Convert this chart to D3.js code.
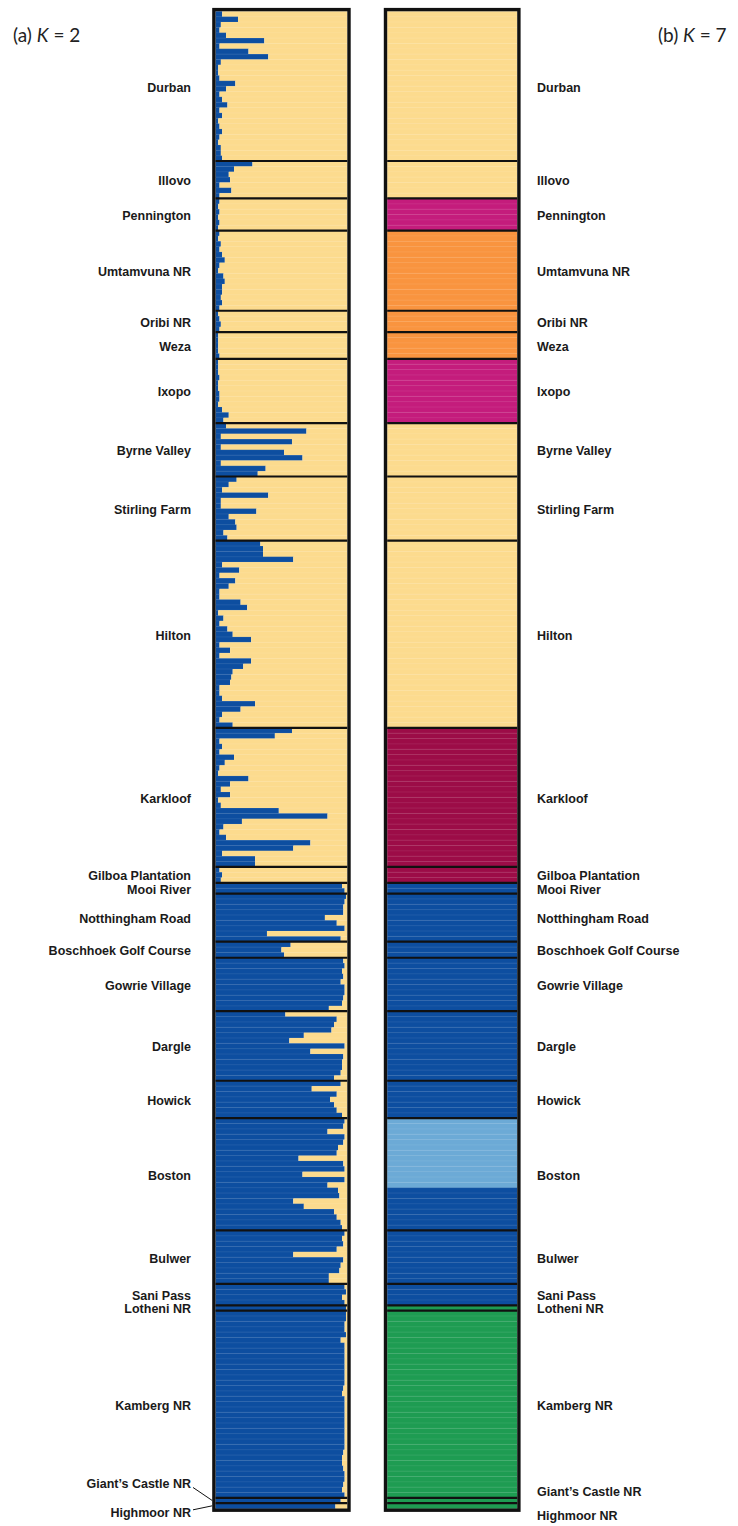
<!DOCTYPE html>
<html>
<head>
<meta charset="utf-8">
<script src="https://cdn.jsdelivr.net/npm/d3@7"></script>
<style>
  body { margin: 0; background: #fff; }
  svg { display: block; }
</style>
</head>
<body>
<svg id="chart" width="738" height="1526"></svg>
<script>
// Sampling sites, top to bottom
const populations = [
  "Durban", "Illovo", "Pennington", "Umtamvuna NR", "Oribi NR", "Weza", "Ixopo",
  "Byrne Valley", "Stirling Farm", "Hilton", "Karkloof", "Gilboa Plantation",
  "Mooi River", "Notthingham Road", "Boschhoek Golf Course", "Gowrie Village",
  "Dargle", "Howick", "Boston", "Bulwer", "Sani Pass", "Lotheni NR", "Kamberg NR",
  "Giant\u2019s Castle NR", "Highmoor NR"
];

// K = 2: membership in the blue cluster for each individual, grouped by site
const k2Blue = [
  [0.05, 0.17, 0.04, 0.03, 0.08, 0.37, 0.03, 0.25, 0.40, 0.04, 0.02, 0.02, 0.03, 0.15, 0.08, 0.03, 0.05, 0.09, 0.03, 0.05, 0.02, 0.03, 0.05, 0.03, 0.02, 0.04, 0.04, 0.05],
  [0.28, 0.14, 0.10, 0.11, 0.03, 0.12, 0.03],
  [0.03, 0.02, 0.03, 0.02, 0.03, 0.02],
  [0.03, 0.02, 0.04, 0.03, 0.05, 0.07, 0.03, 0.02, 0.06, 0.07, 0.05, 0.05, 0.04, 0.05, 0.03],
  [0.02, 0.03, 0.04, 0.03],
  [0.02, 0.02, 0.02, 0.02, 0.03],
  [0.02, 0.02, 0.02, 0.03, 0.02, 0.02, 0.03, 0.03, 0.02, 0.05, 0.10, 0.06],
  [0.08, 0.69, 0.04, 0.58, 0.04, 0.52, 0.66, 0.04, 0.38, 0.32],
  [0.16, 0.10, 0.05, 0.40, 0.04, 0.04, 0.31, 0.10, 0.15, 0.16, 0.06, 0.09],
  [0.34, 0.36, 0.36, 0.59, 0.05, 0.18, 0.03, 0.15, 0.10, 0.03, 0.03, 0.19, 0.24, 0.02, 0.06, 0.03, 0.09, 0.13, 0.27, 0.03, 0.11, 0.03, 0.27, 0.21, 0.13, 0.12, 0.11, 0.03, 0.03, 0.05, 0.30, 0.19, 0.05, 0.03, 0.13],
  [0.58, 0.45, 0.03, 0.05, 0.03, 0.14, 0.07, 0.03, 0.02, 0.25, 0.11, 0.04, 0.11, 0.02, 0.04, 0.48, 0.85, 0.20, 0.06, 0.03, 0.08, 0.72, 0.59, 0.05, 0.30, 0.30],
  [0.03, 0.05, 0.04],
  [0.96, 0.98],
  [0.99, 0.98, 0.97, 0.97, 0.83, 0.92, 0.98, 0.39, 0.95],
  [0.57, 0.50, 0.52],
  [0.97, 0.98, 0.96, 0.97, 0.95, 0.98, 0.98, 0.97, 0.96, 0.86],
  [0.53, 0.92, 0.90, 0.88, 0.67, 0.56, 0.98, 0.72, 0.97, 0.96, 0.96, 0.95, 0.90],
  [0.95, 0.73, 0.92, 0.87, 0.90, 0.92, 0.96],
  [0.98, 0.97, 0.85, 0.98, 0.97, 0.93, 0.92, 0.63, 0.97, 0.98, 0.66, 0.98, 0.85, 0.93, 0.94, 0.59, 0.67, 0.90, 0.92, 0.95, 0.96],
  [0.98, 0.96, 0.97, 0.92, 0.59, 0.97, 0.95, 0.94, 0.86, 0.86],
  [0.98, 0.99, 0.96, 0.98],
  [0.99],
  [0.99, 0.99, 0.98, 0.98, 0.99, 0.95, 0.98, 0.98, 0.98, 0.98, 0.98, 0.98, 0.98, 0.98, 0.97, 0.96, 0.98, 0.98, 0.98, 0.98, 0.98, 0.98, 0.98, 0.98, 0.98, 0.98, 0.97, 0.96, 0.96, 0.97, 0.98, 0.98, 0.97, 0.96, 0.98],
  [0.95],
  [0.91]
];

// K = 7: runs of [cluster, number of individuals] for each site
const k7Runs = [
  [[0, 28]], [[0, 7]], [[1, 6]], [[2, 15]], [[2, 4]], [[2, 5]], [[1, 12]],
  [[0, 10]], [[0, 12]], [[0, 35]], [[3, 26]], [[3, 3]],
  [[4, 2]], [[4, 9]], [[4, 3]], [[4, 10]], [[4, 13]], [[4, 7]],
  [[5, 13], [4, 8]], [[4, 10]], [[4, 4]],
  [[6, 1]], [[6, 35]], [[6, 1]], [[6, 1]]
];

const k2Colors = ["#0d4ea0", "#fcdb8e"];
const k7Colors = ["#fcdb8e", "#c41c7c", "#f9943f", "#9c0c47", "#0d4ea0", "#6caad6", "#1e9c52"];

// ---- flatten into individuals ----
const individuals = [];
const popRanges = [];
populations.forEach((name, p) => {
  const start = individuals.length;
  const k7 = [];
  k7Runs[p].forEach(([c, n]) => { for (let i = 0; i < n; i++) k7.push(c); });
  k2Blue[p].forEach((q, i) => {
    individuals.push({ pop: p, q, k7: k7[i] });
  });
  popRanges.push({ name, start, end: individuals.length });
});
const N = individuals.length;

const svg = d3.select("#chart");
svg.append("rect").attr("width", 738).attr("height", 1526).attr("fill", "#fff");

const y = d3.scaleBand().domain(d3.range(N)).range([11.3, 1508.5]).paddingInner(0);
const bw = y.bandwidth();
const popTop = r => y(r.start);
const popBottom = r => y(r.end - 1) + bw;
const popMid = r => (popTop(r) + popBottom(r)) / 2;

const xA = d3.scaleLinear().domain([0, 1]).range([215.6, 347.3]);
const xB = d3.scaleLinear().domain([0, 1]).range([387.2, 517.2]);

const border = 3.4;

function drawFrame(g, x) {
  // faint lines between individuals
  const popStarts = new Set(popRanges.map(r => r.start));
  g.append("g").selectAll("line")
    .data(d3.range(1, N).filter(i => !popStarts.has(i)))
    .join("line")
    .attr("x1", x(0)).attr("x2", x(1))
    .attr("y1", i => y(i)).attr("y2", i => y(i))
    .attr("stroke", "#fff").attr("stroke-opacity", 0.14).attr("stroke-width", 0.6);
  // site separators
  g.append("g").selectAll("line")
    .data(popRanges.slice(1))
    .join("line")
    .attr("x1", x(0)).attr("x2", x(1))
    .attr("y1", r => popTop(r)).attr("y2", r => popTop(r))
    .attr("stroke", "#111").attr("stroke-width", 2.2);
  // outer frame
  g.append("rect")
    .attr("x", x(0) - border / 2).attr("y", y.range()[0] - border / 2)
    .attr("width", x(1) - x(0) + border)
    .attr("height", y.range()[1] - y.range()[0] + border)
    .attr("fill", "none").attr("stroke", "#111").attr("stroke-width", border);
}

// ---- panel (a): K = 2 ----
const gA = svg.append("g");
const rowsA = gA.append("g").selectAll("g").data(individuals).join("g");
rowsA.append("rect")
  .attr("x", xA(0)).attr("y", (d, i) => y(i))
  .attr("width", d => xA(d.q) - xA(0)).attr("height", bw + 0.3)
  .attr("fill", k2Colors[0]);
rowsA.append("rect")
  .attr("x", d => xA(d.q)).attr("y", (d, i) => y(i))
  .attr("width", d => xA(1) - xA(d.q)).attr("height", bw + 0.3)
  .attr("fill", k2Colors[1]);
drawFrame(gA, xA);

// ---- panel (b): K = 7 ----
const gB = svg.append("g");
gB.append("g").selectAll("rect").data(individuals).join("rect")
  .attr("x", xB(0)).attr("y", (d, i) => y(i))
  .attr("width", xB(1) - xB(0)).attr("height", bw + 0.3)
  .attr("fill", d => k7Colors[d.k7]);
drawFrame(gB, xB);

// ---- site labels ----
const labelFont = "'Liberation Sans', Arial, Helvetica, sans-serif";
const labelDrop = 1.5;
const nudgeA = { 23: -18, 24: 6 };
const nudgeB = { 23: -10, 24: 9 };

svg.append("g").selectAll("text").data(popRanges).join("text")
  .attr("x", 191).attr("y", (r, i) => popMid(r) + labelDrop + (nudgeA[i] || 0))
  .attr("text-anchor", "end").attr("dominant-baseline", "central")
  .attr("font-family", labelFont).attr("font-weight", "bold").attr("font-size", 12.5)
  .attr("fill", "#1a1a1a")
  .text(r => r.name);

svg.append("g").selectAll("text").data(popRanges).join("text")
  .attr("x", 537).attr("y", (r, i) => popMid(r) + labelDrop + (nudgeB[i] || 0))
  .attr("text-anchor", "start").attr("dominant-baseline", "central")
  .attr("font-family", labelFont).attr("font-weight", "bold").attr("font-size", 12.5)
  .attr("fill", "#1a1a1a")
  .text(r => r.name);

// leader lines for the two one-sample sites in panel (a)
svg.append("g").selectAll("line").data([23, 24]).join("line")
  .attr("x1", 193).attr("y1", i => popMid(popRanges[i]) + nudgeA[i] + (i === 23 ? 5 : -2))
  .attr("x2", xA(0) - border).attr("y2", i => popMid(popRanges[i]))
  .attr("stroke", "#111").attr("stroke-width", 1);

// ---- panel titles ----
const titleFont = "Lato, 'Open Sans', sans-serif";
function title(x, letter, k) {
  const t = svg.append("text").attr("x", x).attr("y", 42)
    .attr("font-family", titleFont).attr("font-size", 19).attr("fill", "#222");
  t.append("tspan").text(`(${letter}) `);
  t.append("tspan").attr("font-style", "italic").text("K");
  t.append("tspan").text(` = ${k}`);
}
title(13, "a", 2);
title(658, "b", 7);
</script>
</body>
</html>
